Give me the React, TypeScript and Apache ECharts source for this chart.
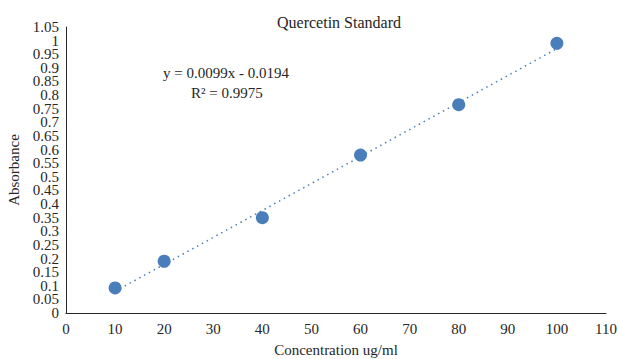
import React, { useEffect, useRef } from "react";
import * as echarts from "echarts";

const concentrations = [10, 20, 40, 60, 80, 100];
const absorbances = [0.092, 0.19, 0.35, 0.58, 0.765, 0.99];
const trendX = [10, 100];
const trendY = [0.0796, 0.9706];
const titleText = "Quercetin Standard";
const equationText = "y = 0.0099x - 0.0194";
const r2Text = "R² = 0.9975";
// labels that ECharts would drop next to the forced min/max labels
const extraYLabels = [0.05, 1];

const FONT = "'Liberation Serif', 'DejaVu Serif', serif";
const TEXT = "#262626";
const BLUE = "#4a7ebb";

const fmt = (v: number) => String(+v.toFixed(2));

export default function App() {
  const ref = useRef<HTMLDivElement>(null);
  useEffect(() => {
    const chart = echarts.init(ref.current!, null, { renderer: "svg" });
    const yLabelStyle = {
      fontFamily: FONT,
      fontSize: 15,
      color: TEXT,
      margin: 7,
      hideOverlap: false,
    };
    chart.setOption({
      animation: false,
      backgroundColor: "#fff",
      textStyle: { fontFamily: FONT, color: TEXT },
      title: {
        text: titleText,
        left: 272,
        top: 9,
        textStyle: { fontFamily: FONT, fontSize: 16, fontWeight: "normal", color: TEXT },
      },
      grid: {
        left: 66,
        right: 13,
        top: 27,
        bottom: 46,
        containLabel: false,
        outerBoundsMode: "none",
      },
      xAxis: {
        type: "value",
        min: 0,
        max: 110,
        interval: 10,
        name: "Concentration ug/ml",
        nameLocation: "middle",
        nameGap: 29,
        nameTextStyle: { fontFamily: FONT, fontSize: 15, color: TEXT },
        axisLine: { show: true, lineStyle: { color: "#262626", width: 1 } },
        axisTick: { show: false },
        splitLine: { show: false },
        axisLabel: {
          fontFamily: FONT,
          fontSize: 15,
          color: TEXT,
          margin: 8,
          showMinLabel: true,
          showMaxLabel: true,
        },
      },
      yAxis: [
        {
          type: "value",
          min: 0,
          max: 1.05,
          interval: 0.05,
          name: "Absorbance",
          nameLocation: "middle",
          nameGap: 44,
          nameRotate: 90,
          nameTextStyle: { fontFamily: FONT, fontSize: 15, color: TEXT },
          axisLine: { show: true, lineStyle: { color: "#262626", width: 1 } },
          axisTick: { show: false },
          splitLine: { show: false },
          axisLabel: {
            ...yLabelStyle,
            showMinLabel: true,
            showMaxLabel: true,
            formatter: fmt,
          },
        },
        {
          type: "value",
          position: "left",
          offset: 0,
          min: 0,
          max: 1.05,
          interval: 0.05,
          axisLine: { show: false },
          axisTick: { show: false },
          splitLine: { show: false },
          axisLabel: {
            ...yLabelStyle,
            showMinLabel: false,
            showMaxLabel: false,
            formatter: (v: number) =>
              extraYLabels.some((e) => Math.abs(e - v) < 1e-6) ? fmt(v) : "",
          },
        },
      ],
      series: [
        {
          type: "line",
          data: trendX.map((x, i) => [x, trendY[i]]),
          symbol: "none",
          lineStyle: { color: BLUE, width: 1.5, type: [1.5, 4] },
          z: 1,
        },
        {
          type: "scatter",
          data: concentrations.map((x, i) => [x, absorbances[i]]),
          symbol: "circle",
          symbolSize: 13,
          itemStyle: { color: BLUE, opacity: 1 },
          z: 2,
        },
      ],
      graphic: [
        {
          type: "text",
          left: 163,
          top: 65,
          style: { text: equationText, fontFamily: FONT, fontSize: 15, fill: TEXT },
        },
        {
          type: "text",
          left: 191,
          top: 85,
          style: { text: r2Text, fontFamily: FONT, fontSize: 15, fill: TEXT },
        },
      ],
    });
    return () => chart.dispose();
  }, []);
  return <div ref={ref} style={{ width: 619, height: 359, position: "absolute", left: 0, top: 0 }} />;
}
